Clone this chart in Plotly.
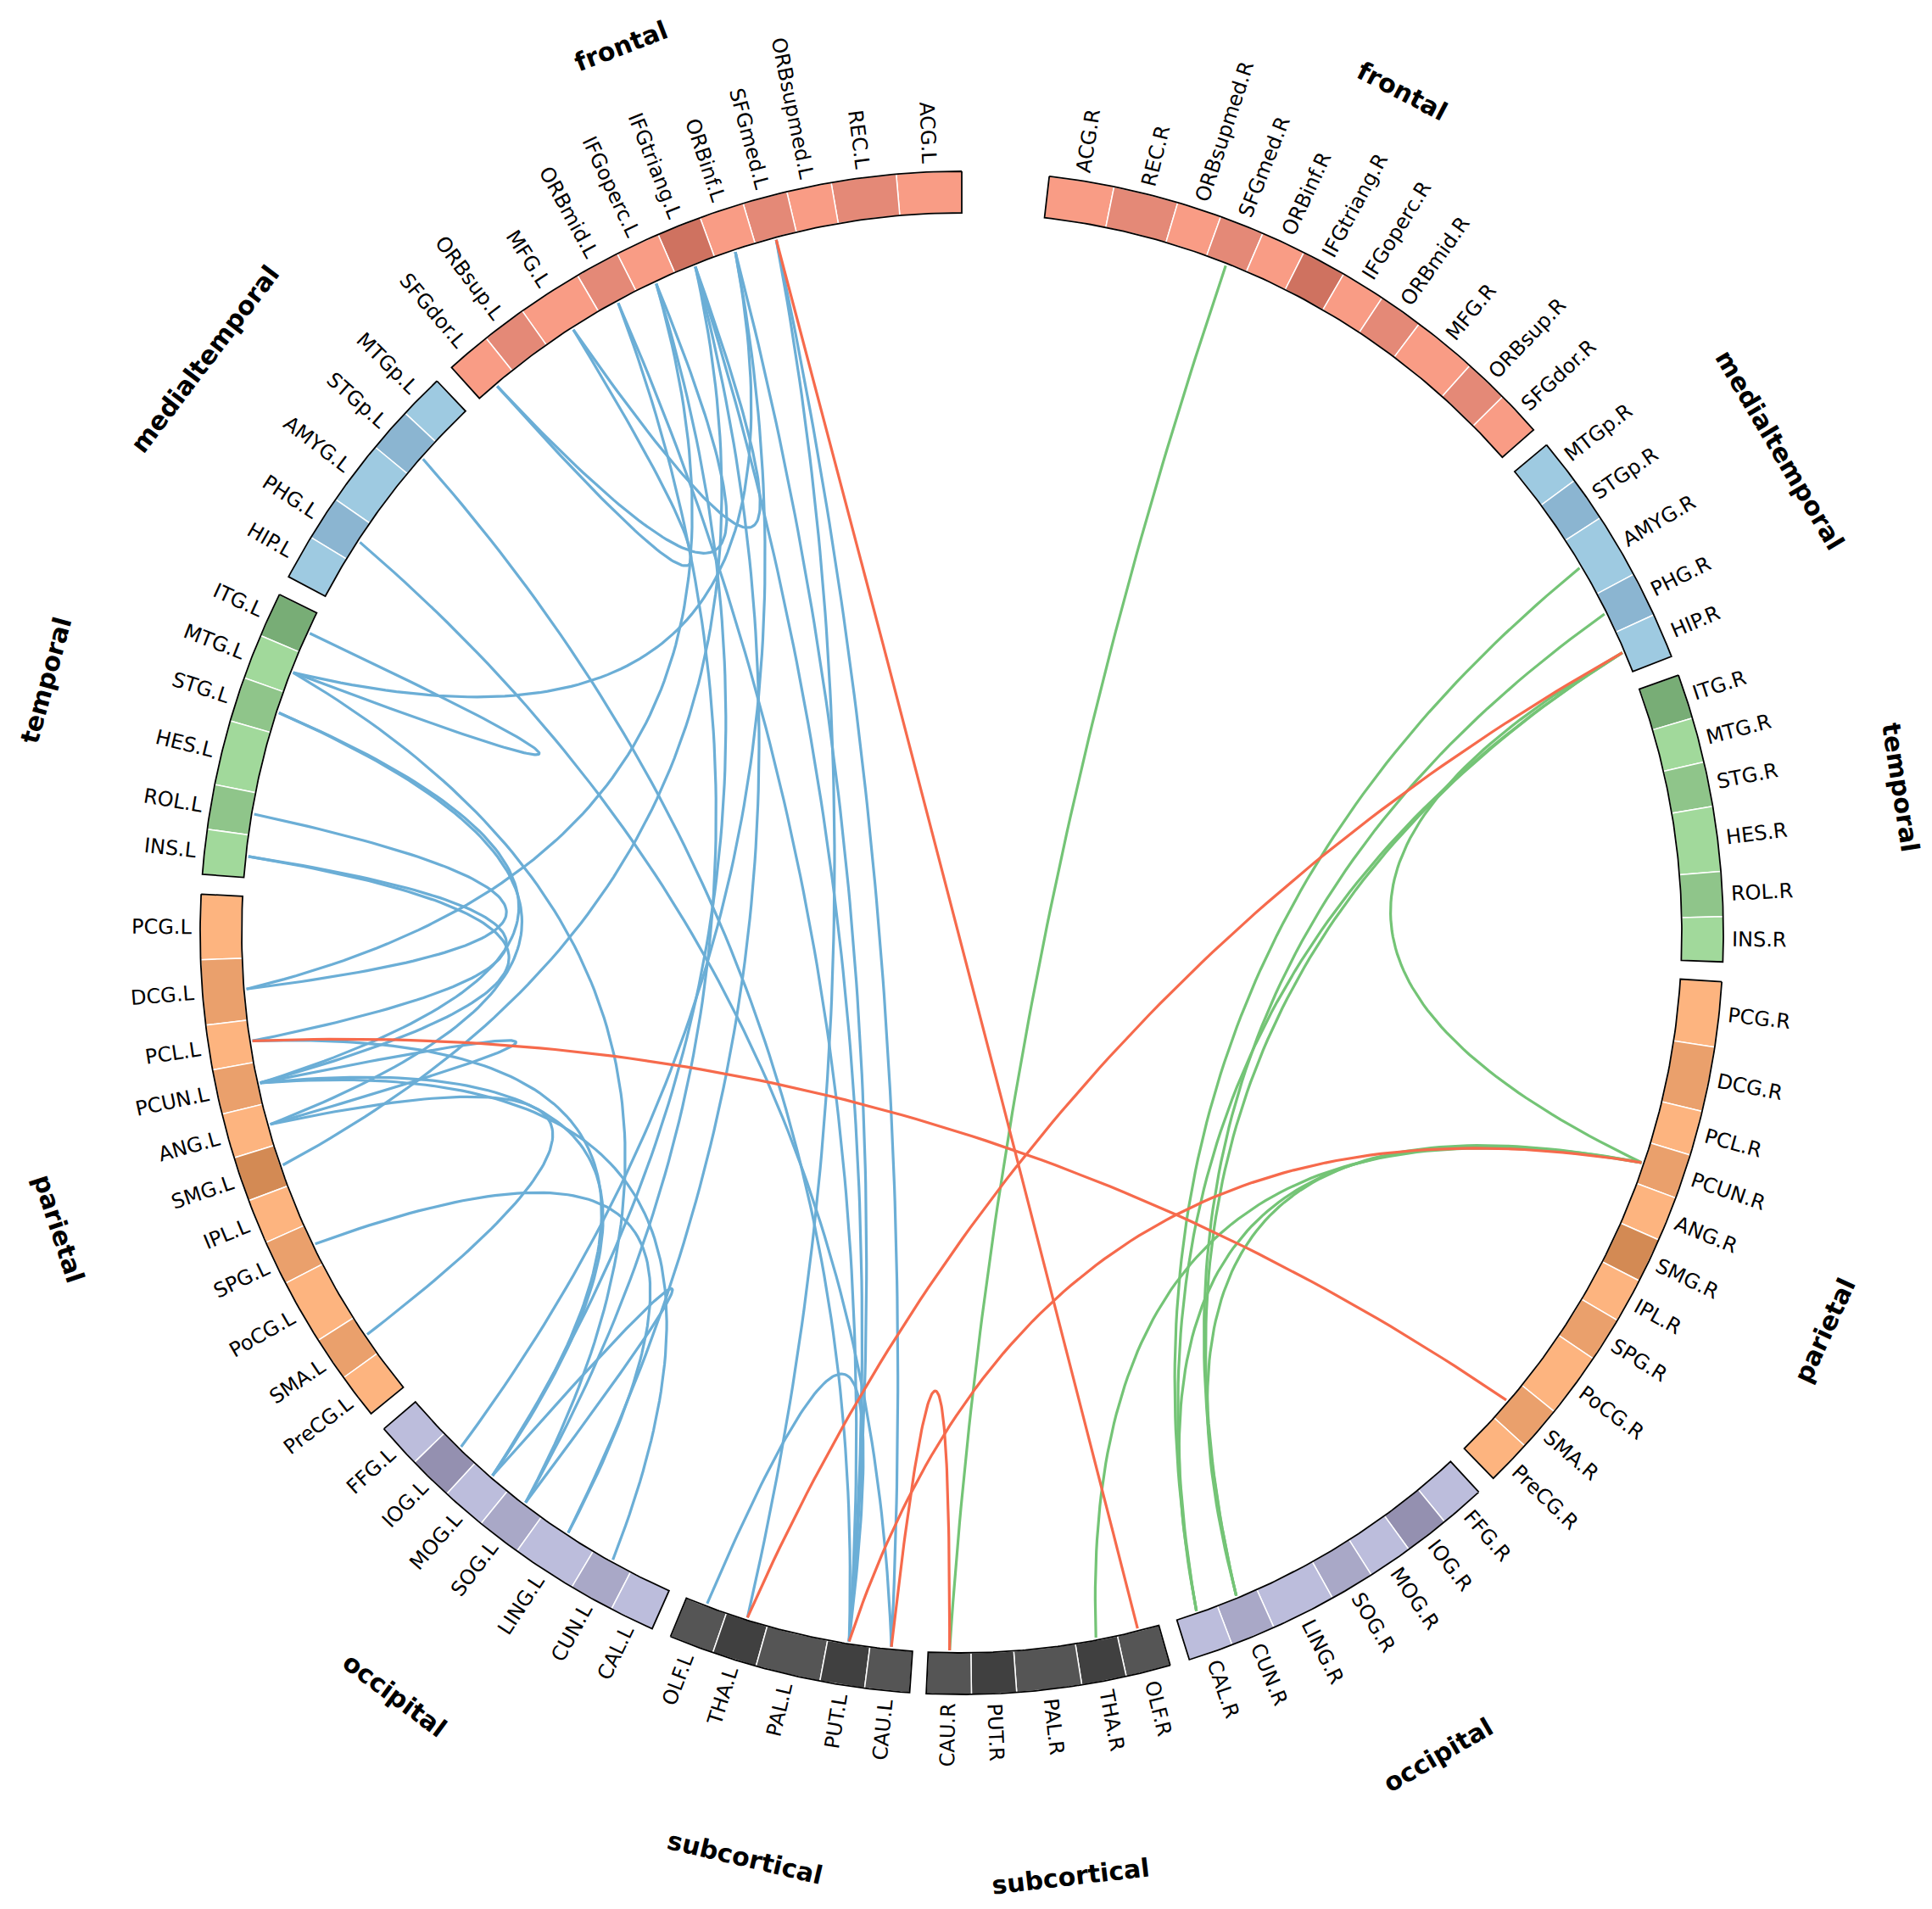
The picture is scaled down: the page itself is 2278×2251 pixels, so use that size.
import numpy as np
import plotly.graph_objects as go

# ---- sectors (same order on both hemispheres) ----
groups = ["frontal", "medialtemporal", "temporal", "parietal", "occipital", "subcortical"]

frontal_regions = ["ACG", "REC", "ORBsupmed", "SFGmed", "ORBinf", "IFGtriang", "IFGoperc", "ORBmid", "MFG", "ORBsup", "SFGdor"]
frontal_sizes = [1.45, 1.45, 1, 1, 1, 1, 1, 1, 1.45, 1, 1]
frontal_shades = [0, 1, 0, 1, 0, 2, 0, 1, 0, 1, 0]

medialtemporal_regions = ["MTGp", "STGp", "AMYG", "PHG", "HIP"]
medialtemporal_sizes = [1, 1, 1.45, 1, 1]
medialtemporal_shades = [0, 1, 0, 1, 0]

temporal_regions = ["ITG", "MTG", "STG", "HES", "ROL", "INS"]
temporal_sizes = [1, 1, 1, 1.45, 1, 1]
temporal_shades = [2, 0, 1, 0, 1, 0]

parietal_regions = ["PCG", "DCG", "PCL", "PCUN", "ANG", "SMG", "IPL", "SPG", "PoCG", "SMA", "PreCG"]
parietal_sizes = [1.45, 1.45, 1, 1, 1, 1, 1, 1, 1.45, 1, 1]
parietal_shades = [0, 1, 0, 1, 0, 2, 0, 1, 0, 1, 0]

occipital_regions = ["FFG", "IOG", "MOG", "SOG", "LING", "CUN", "CAL"]
occipital_sizes = [1, 1, 1, 1, 1.45, 1, 1]
occipital_shades = [0, 2, 0, 1, 0, 1, 0]

subcortical_regions = ["OLF", "THA", "PAL", "PUT", "CAU"]
subcortical_sizes = [1, 1, 1.45, 1, 1]
subcortical_shades = [1, 2, 1, 2, 1]

frontal_colors = ["#F99C85", "#E48977", "#CF7260"]
medialtemporal_colors = ["#9ECAE1", "#8BB5D1", "#7BA3C0"]
temporal_colors = ["#A1D99B", "#8FC58A", "#78AD76"]
parietal_colors = ["#FDB47F", "#EAA06C", "#D38A54"]
occipital_colors = ["#BCBDDC", "#A9A8C7", "#9490B0"]
subcortical_colors = ["#6A6A6A", "#555555", "#404040"]

# ---- links ----
blue_links = [
    ("SFGdor.L", "MFG.L"), ("SFGdor.L", "IFGoperc.L"), ("MFG.L", "IFGtriang.L"),
    ("ORBinf.L", "MTG.L"), ("IFGtriang.L", "PUT.L"), ("ORBmid.L", "PUT.L"),
    ("SFGmed.L", "CAU.L"), ("SFGmed.L", "THA.L"), ("ORBinf.L", "PUT.L"),
    ("SMG.L", "IFGtriang.L"), ("ORBmid.L", "SOG.L"), ("IFGoperc.L", "MOG.L"),
    ("IFGtriang.L", "LING.L"), ("ORBinf.L", "IOG.L"), ("STGp.L", "PUT.L"),
    ("PHG.L", "CAU.L"), ("ITG.L", "MTG.L"), ("MTG.L", "SOG.L"),
    ("STG.L", "PCUN.L"), ("STG.L", "ANG.L"), ("ROL.L", "DCG.L"),
    ("INS.L", "PCL.L"), ("INS.L", "PCUN.L"), ("DCG.L", "IFGoperc.L"),
    ("PCL.L", "MOG.L"), ("PCUN.L", "MOG.L"), ("PCUN.L", "CUN.L"),
    ("ANG.L", "SMA.L"), ("SPG.L", "LING.L"), ("OLF.L", "PUT.L"),
    ("MOG.L", "SOG.L"), ("PCUN.L", "ANG.L"),
]
green_links = [
    ("SFGmed.R", "CAU.R"), ("AMYG.R", "CAL.R"), ("PHG.R", "CUN.R"),
    ("HIP.R", "CUN.R"), ("HIP.R", "CAL.R"), ("HIP.R", "PCUN.R"),
    ("THA.R", "PCUN.R"), ("CUN.R", "PCUN.R"), ("CAL.R", "PCUN.R"),
]
red_links = [
    ("SFGmed.L", "OLF.R"), ("PCL.L", "SMA.R"), ("THA.L", "HIP.R"),
    ("PUT.L", "PCUN.R"), ("CAU.L", "CAU.R"),
]

# ---- geometry ----
CX, CY = 1126, 1092
W, H = 2278, 2251
R_IN, R_OUT = 849, 898
R_LINK = 846
R_LAB = 908
R_GROUP = 1120
AXIS = 86.7
HALF_TOP = 3.3
BOTTOM_GAP = 1.25
GAP = 1.5
K = 0.36

group_data = [
    (frontal_regions, frontal_sizes, frontal_shades, frontal_colors),
    (medialtemporal_regions, medialtemporal_sizes, medialtemporal_shades, medialtemporal_colors),
    (temporal_regions, temporal_sizes, temporal_shades, temporal_colors),
    (parietal_regions, parietal_sizes, parietal_shades, parietal_colors),
    (occipital_regions, occipital_sizes, occipital_shades, occipital_colors),
    (subcortical_regions, subcortical_sizes, subcortical_shades, subcortical_colors),
]

total_units = sum(sum(g[1]) for g in group_data)
unit = (180 - HALF_TOP - BOTTOM_GAP / 2 - GAP * (len(groups) - 1)) / total_units

cells = []      # (name, a0, a1, color)
group_spans = []  # (label, a0, a1)
for side in ["L", "R"]:
    cur = AXIS + HALF_TOP
    for gname, (regs, sizes, shades, cols) in zip(groups, group_data):
        g0 = cur
        for reg, sz, sh in zip(regs, sizes, shades):
            a0, a1 = cur, cur + sz * unit
            cur = a1
            if side == "L":
                cells.append((reg + ".L", a0, a1, cols[sh]))
            else:
                cells.append((reg + ".R", 2 * AXIS - a0, 2 * AXIS - a1, cols[sh]))
        if side == "L":
            group_spans.append((gname, g0, cur))
        else:
            group_spans.append((gname, 2 * AXIS - g0, 2 * AXIS - cur))
        cur += GAP

center_angle = {c[0]: (c[1] + c[2]) / 2 for c in cells}


def arc(a0, a1, r, n=40):
    t = np.radians(np.linspace(a0, a1, n))
    return r * np.cos(t), r * np.sin(t)


def link_path(n1, n2):
    a1, a2 = np.radians(center_angle[n1]), np.radians(center_angle[n2])
    p1 = np.array([np.cos(a1), np.sin(a1)]) * R_LINK
    p2 = np.array([np.cos(a2), np.sin(a2)]) * R_LINK
    c = (p1 + p2) / 2 * (1 - 2 * K)
    t = np.linspace(0, 1, 90)[:, None]
    pts = (1 - t) ** 2 * p1 + 2 * (1 - t) * t * c + t ** 2 * p2
    return list(pts[:, 0]) + [None], list(pts[:, 1]) + [None]


fig = go.Figure()

for links, color in [(blue_links, "#6BAED6"), (green_links, "#74C476"), (red_links, "#F66A4C")]:
    xs, ys = [], []
    for a, b in links:
        x, y = link_path(a, b)
        xs += x
        ys += y
    fig.add_trace(go.Scatter(x=xs, y=ys, mode="lines", line=dict(color=color, width=3.2),
                             hoverinfo="skip", showlegend=False))

# ring cells
for name, a0, a1, col in cells:
    xo, yo = arc(a0, a1, R_OUT)
    xi, yi = arc(a1, a0, R_IN)
    fig.add_trace(go.Scatter(x=np.r_[xo, xi, xo[:1]], y=np.r_[yo, yi, yo[:1]], mode="lines",
                             fill="toself", fillcolor=col, line=dict(color="white", width=1.5),
                             hoverinfo="skip", showlegend=False))

# black outline per group
for gname, a0, a1 in group_spans:
    xo, yo = arc(a0, a1, R_OUT, 80)
    xi, yi = arc(a1, a0, R_IN, 80)
    fig.add_trace(go.Scatter(x=np.r_[xo, xi, xo[:1]], y=np.r_[yo, yi, yo[:1]], mode="lines",
                             line=dict(color="black", width=1.8), hoverinfo="skip", showlegend=False))

# text widths (DejaVu Sans, em units)
CW = {"A": .684, "B": .686, "C": .698, "D": .770, "E": .632, "F": .575, "G": .775, "H": .752,
      "I": .295, "L": .557, "M": .863, "N": .748, "O": .787, "P": .603, "R": .695, "S": .635,
      "T": .611, "U": .732, "Y": .611, "a": .613, "b": .635, "c": .550, "d": .635, "e": .615,
      "f": .352, "g": .635, "h": .634, "i": .278, "l": .278, "m": .974, "n": .634, "o": .612,
      "p": .635, "r": .411, "s": .521, "t": .392, "u": .634, ".": .318}
FS = 24

annotations = []
for name, a0, a1, col in cells:
    th = (a0 + a1) / 2
    thn = (th + 180) % 360 - 180
    w = sum(CW.get(ch, 0.6) for ch in name) * FS
    r = R_LAB + w / 2
    if np.cos(np.radians(thn)) >= 0:
        ang = -thn
    else:
        ang = 180 - (th % 360)
    annotations.append(dict(x=r * np.cos(np.radians(th)), y=r * np.sin(np.radians(th)),
                            text=name, textangle=ang, showarrow=False, xanchor="center",
                            yanchor="middle", font=dict(family="DejaVu Sans", size=FS, color="black")))

for gname, a0, a1 in group_spans:
    th = ((a0 + a1) / 2) % 360
    ang = 90 - th if th < 180 else 270 - th
    annotations.append(dict(x=R_GROUP * np.cos(np.radians(th)), y=R_GROUP * np.sin(np.radians(th)),
                            text="<b>" + gname + "</b>", textangle=ang, showarrow=False,
                            xanchor="center", yanchor="middle", borderpad=0,
                            font=dict(family="DejaVu Sans", size=30, color="black")))

fig.update_layout(
    width=W, height=H, margin=dict(l=0, r=0, t=0, b=0),
    paper_bgcolor="white", plot_bgcolor="white",
    xaxis=dict(range=[-CX, W - CX], visible=False, fixedrange=True),
    yaxis=dict(range=[-(H - CY), CY], visible=False, fixedrange=True),
    annotations=annotations, showlegend=False,
)

fig.write_html("out.html")
